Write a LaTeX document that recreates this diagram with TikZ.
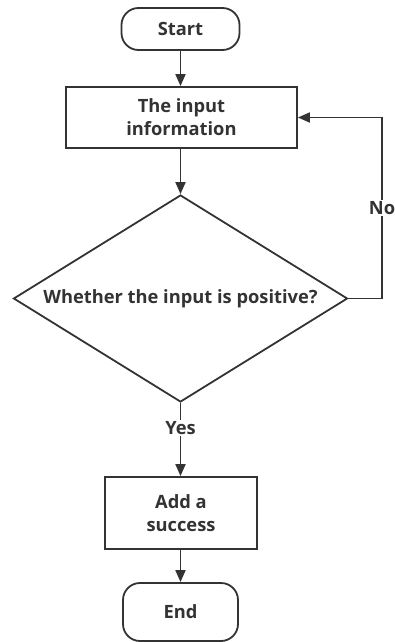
\documentclass[tikz,border=0pt]{standalone}
\usepackage{fontspec}
\setmainfont{Open Sans}
\usetikzlibrary{shapes.geometric,arrows.meta}
\definecolor{ink}{HTML}{333333}
\tikzset{
  x=1pt, y=-1pt,
  base/.style={draw=ink, line width=1.8pt, text=ink, font=\fontsize{18.3}{23}\selectfont\bfseries, align=center, inner sep=0pt},
  term/.style={base, rectangle, rounded corners=17pt},
  proc/.style={base, rectangle},
  decide/.style={base, diamond},
  lab/.style={text=ink, font=\fontsize{18.3}{23}\selectfont\bfseries, inner sep=1pt},
  conn/.style={draw=ink, line width=1.8pt},
  arr/.style={conn, -{Triangle[length=12pt,width=10pt]}}
}
\begin{document}
\begin{tikzpicture}
\useasboundingbox (0,0) rectangle (395,642);
\node[term, minimum width=118pt, minimum height=42pt] (start) at (180.5,29) {Start};
\node[proc, minimum width=231pt, minimum height=61pt] (input) at (181.5,117.5) {The input\\information};
\node[decide, minimum width=334pt, minimum height=207pt, shape aspect=1.6] (dec) at (180.5,298.5) {Whether the input is positive?};
\node[lab] (yes) at (180.5,428) {Yes};
\node[lab] (no) at (382,208) {No};
\node[proc, minimum width=152pt, minimum height=72pt] (add) at (181,513) {Add a\\success};
\node[term, minimum width=115pt, minimum height=58pt] (end) at (180.5,612) {End};
\draw[arr] (start) -- (input.north -| start);
\draw[arr] (input.south -| dec.north) -- (dec.north);
\draw[conn] (dec.south) -- (yes.north);
\draw[arr] (yes.south) -- (add.north -| yes);
\draw[arr] (add.south -| end) -- (end.north);
\draw[conn] (dec.east) -| (no.south);
\draw[arr] (no.north) |- (input.east);
\end{tikzpicture}
\end{document}
